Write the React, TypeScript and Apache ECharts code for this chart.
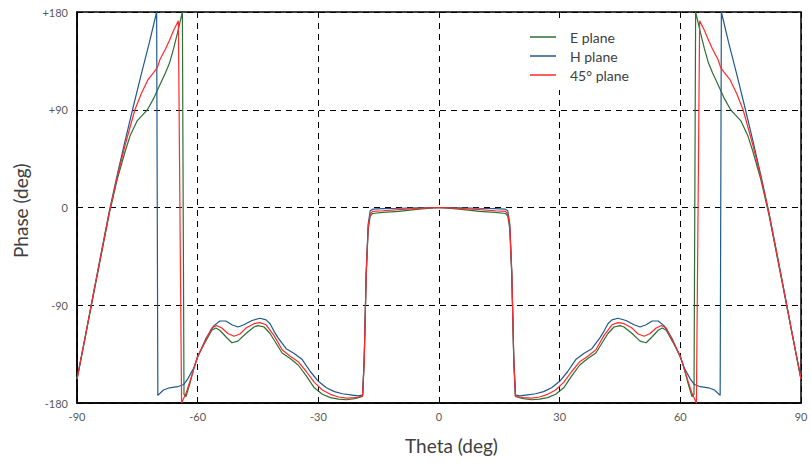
import React, { useEffect, useRef } from "react";
import * as echarts from "echarts";

const xTicks = [-90, -60, -30, 0, 30, 60, 90];
const yTickLabels: Record<string, string> = { "180": "+180", "90": "+90", "0": "0", "-90": "-90", "-180": "-180" };

const seriesNames = ["E plane", "H plane", "45° plane"];
const seriesColors = ["#2E6F35", "#1F5A8C", "#FF2A2A"];

// H plane (blue)
const hPlane: [number, number][] = [
  [-90, -158], [-88, -120], [-86, -81], [-84, -42], [-82, -4], [-80, 30], [-78, 62], [-76, 93], [-74, 123], [-72, 152], [-70.2, 180],
  [-69.9, -173], [-68.5, -168], [-67, -166], [-65, -165], [-63.5, -163], [-62.5, -158], [-61, -148], [-60, -138],
  [-58, -121], [-56, -109], [-54.5, -104.5], [-53, -104.5], [-51.5, -108], [-50, -110], [-48.5, -108], [-46.5, -104], [-44.5, -102], [-43, -103.5],
  [-42, -107], [-41, -114], [-40, -120], [-38, -130], [-36, -134.5], [-34, -140], [-32, -151], [-30, -160], [-28, -166], [-26, -169.5], [-24, -171.5],
  [-22, -172.5], [-20, -173.5], [-19, -172.5], [-18.6, -140], [-18.1, -60], [-17.6, -15], [-17.1, -3], [-16.5, -1.5], [-14, -1], [-10, -0.7], [-5, -0.3], [0, 0],
  [5, -0.3], [10, -0.7], [14, -1], [16.5, -1.5], [17.1, -3], [17.6, -15], [18.1, -60], [18.6, -140], [19, -172.5], [20, -173.5], [22, -172.5],
  [24, -171.5], [26, -169.5], [28, -166], [30, -160], [32, -151], [34, -140], [36, -134.5], [38, -130], [40, -120], [41, -114], [42, -107],
  [43, -103.5], [44.5, -102], [46.5, -104], [48.5, -108], [50, -110], [51.5, -108], [53, -104.5], [54.5, -104.5], [56, -109], [58, -121],
  [60, -138], [61, -148], [62.5, -158], [63.5, -163], [65, -165], [67, -166], [68.5, -168], [69.9, -173],
  [70.2, 180], [72, 152], [74, 123], [76, 93], [78, 62], [80, 30], [82, -4], [84, -42], [86, -81], [88, -120], [90, -158],
];

// E plane (green)
const ePlane: [number, number][] = [
  [-90, -158], [-88, -120], [-86, -82], [-84, -44], [-82, -6], [-80, 26], [-78, 52], [-76.8, 66], [-75, 80], [-73.5, 86], [-72.5, 90],
  [-71, 100], [-69.5, 112], [-68, 124], [-67, 133], [-66, 146], [-65, 161], [-64.3, 172], [-63.8, 180],
  [-63.4, -172], [-62.9, -174], [-62, -163], [-61, -149], [-60, -137],
  [-58, -123], [-56.5, -113], [-55.5, -111], [-54.5, -113], [-53, -119], [-51.5, -124.5], [-50, -123], [-48, -116], [-46, -110], [-45, -108.7],
  [-43.5, -110], [-42, -116], [-41, -122], [-39, -134], [-37, -139], [-35, -145], [-33, -155], [-31, -166], [-29, -172], [-27, -175], [-25, -176.5],
  [-23, -177], [-21, -176], [-20, -175], [-19, -174], [-18.6, -142], [-18.1, -62], [-17.6, -20], [-17.1, -8], [-16.5, -5.5], [-14, -4.5], [-10, -3.5], [-5, -1.5], [0, 0],
  [5, -1.5], [10, -3.5], [14, -4.5], [16.5, -5.5], [17.1, -8], [17.6, -20], [18.1, -62], [18.6, -142], [19, -174], [20, -175], [21, -176],
  [23, -177], [25, -176.5], [27, -175], [29, -172], [31, -166], [33, -155], [35, -145], [37, -139], [39, -134], [41, -122], [42, -116],
  [43.5, -110], [45, -108.7], [46, -110], [48, -116], [50, -123], [51.5, -124.5], [53, -119], [54.5, -113], [55.5, -111], [56.5, -113], [58, -123],
  [60, -137], [61, -149], [62, -163], [62.9, -174], [63.4, -172],
  [63.8, 180], [64.3, 172], [65, 161], [66, 146], [67, 133], [68, 124], [69.5, 112], [71, 100], [72.5, 90], [73.5, 86], [75, 80], [76.8, 66],
  [78, 52], [80, 26], [82, -6], [84, -44], [86, -82], [88, -120], [90, -158],
];

// 45° plane (red)
const dPlane: [number, number][] = [
  [-90, -158], [-88, -120], [-86, -81], [-84, -43], [-82, -5], [-80, 28], [-78, 58], [-75.6, 90], [-74, 105], [-72.3, 118], [-71, 124],
  [-70, 129], [-69.4, 136], [-68, 146], [-67, 154], [-66, 163], [-64.8, 172],
  [-64, -180], [-62.8, -170], [-61.5, -155], [-60, -137],
  [-58, -122], [-56.5, -111], [-55.3, -108.7], [-54, -111], [-52.5, -116], [-51, -118.5], [-49.5, -116.5], [-48, -111], [-46, -107], [-44.5, -106],
  [-43, -108], [-41, -118], [-39, -131], [-37, -137], [-35, -142], [-33, -151], [-31, -161], [-29, -168], [-27, -172], [-25, -174.5],
  [-23, -175.5], [-21, -175], [-20, -174.5], [-19, -173.5], [-18.6, -141], [-18.1, -61], [-17.6, -17], [-17.1, -6], [-16.5, -3.5], [-14, -3], [-10, -2], [-5, -0.8], [0, 0],
  [5, -0.8], [10, -2], [14, -3], [16.5, -3.5], [17.1, -6], [17.6, -17], [18.1, -61], [18.6, -141], [19, -173.5], [20, -174.5], [21, -175],
  [23, -175.5], [25, -174.5], [27, -172], [29, -168], [31, -161], [33, -151], [35, -142], [37, -137], [39, -131], [41, -118], [43, -108],
  [44.5, -106], [46, -107], [48, -111], [49.5, -116.5], [51, -118.5], [52.5, -116], [54, -111], [55.3, -108.7], [56.5, -111], [58, -122],
  [60, -137], [61.5, -155], [62.8, -170], [64, -180],
  [64.8, 172], [66, 163], [67, 154], [68, 146], [69.4, 136], [70, 129], [71, 124], [72.3, 118], [74, 105], [75.6, 90], [78, 58],
  [80, 28], [82, -5], [84, -43], [86, -81], [88, -120], [90, -158],
];

const seriesData = [ePlane, hPlane, dPlane];

const FONT = "Lato, 'Open Sans', sans-serif";

export default function App() {
  const ref = useRef<HTMLDivElement>(null);
  useEffect(() => {
    if (!ref.current) return;
    const chart = echarts.init(ref.current, undefined, { renderer: "svg" });
    const dashed = { color: "#000", width: 1, type: [6, 5] as any };
    chart.setOption({
      animation: false,
      backgroundColor: "#fff",
      textStyle: { fontFamily: FONT },
      grid: { left: 77, right: 10, top: 12, bottom: 63, show: true, borderColor: "#000", borderWidth: 1.5, backgroundColor: "transparent" },
      legend: {
        orient: "vertical",
        left: 520,
        top: 22,
        padding: [8, 12, 8, 10],
        backgroundColor: "#fff",
        itemGap: 5,
        itemWidth: 26,
        itemHeight: 1.5,
        icon: "rect",
        textStyle: { color: "#404040", fontSize: 14, fontFamily: FONT, padding: [0, 0, 0, 9] },
        data: seriesNames,
      },
      xAxis: {
        type: "value",
        min: xTicks[0],
        max: xTicks[xTicks.length - 1],
        interval: 30,
        axisLine: { show: true, onZero: false, lineStyle: { color: "#000", width: 1.5 } },
        axisTick: { show: true, inside: true, length: 5, lineStyle: { color: "#000", width: 1 } },
        axisLabel: { color: "#595959", fontSize: 11, margin: 8, fontFamily: FONT },
        splitLine: { show: true, lineStyle: dashed },
      },
      yAxis: {
        type: "value",
        min: -180,
        max: 180,
        interval: 90,
        axisLine: { show: true, onZero: false, lineStyle: { color: "#000", width: 1.5 } },
        axisTick: { show: true, inside: true, length: 5, lineStyle: { color: "#000", width: 1 } },
        axisLabel: { color: "#595959", fontSize: 11, margin: 9, fontFamily: FONT, formatter: (v: number) => yTickLabels[String(v)] ?? String(v) },
        splitLine: { show: true, lineStyle: dashed },
      },
      graphic: [
        { type: "text", left: 405, top: 436, style: { text: "Theta (deg)", fill: "#404040", font: `19px ${FONT}` } },
        { type: "text", x: 11, y: 258, rotation: Math.PI / 2, style: { text: "Phase (deg)", fill: "#404040", font: `19px ${FONT}` } },
      ],
      series: seriesNames.map((name, i) => ({
        name,
        type: "line",
        data: seriesData[i],
        showSymbol: false,
        symbol: "none",
        color: seriesColors[i],
        lineStyle: { width: 1.2, color: seriesColors[i] },
        z: 3 + i,
      })),
    });
    return () => chart.dispose();
  }, []);
  return <div ref={ref} style={{ width: 811, height: 466, position: "absolute", left: 0, top: 0 }} />;
}
